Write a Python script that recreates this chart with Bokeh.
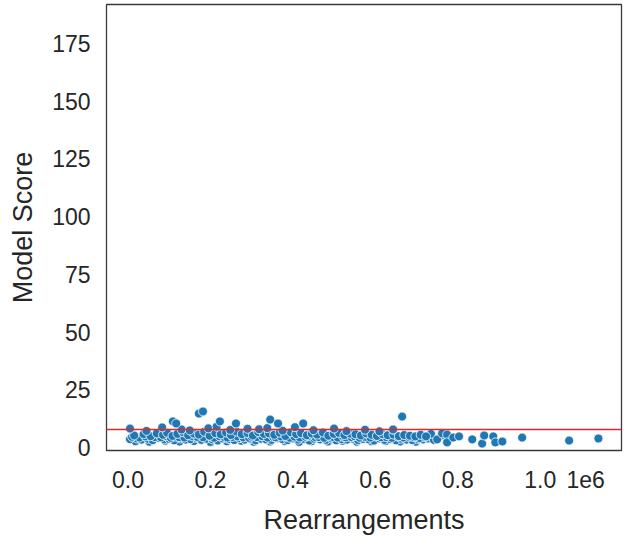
from bokeh.plotting import figure
from bokeh.models import FixedTicker, Range1d, ColumnDataSource
from bokeh.embed import file_html
from bokeh.resources import INLINE

# ---- data ----
# Rearrangements (thousands) / model score
low_x = [5, 22, 33, 48, 60, 75, 88, 100, 112, 128, 140, 152, 165, 178, 190, 205, 218, 230, 245, 258,
         270, 283, 297, 310, 322, 335, 348, 362, 375, 388, 400, 413, 427, 440, 452, 466, 480, 493, 505,
         518, 532, 545, 558, 570, 584, 597, 610, 622, 636, 650, 663, 676, 690, 703, 716, 728, 742]
low_y = [3.6, 3.9, 3.4, 3.8, 3.2, 4.1, 3.5, 3.7, 3.1, 3.9, 3.4, 3.6, 4.2, 3.3, 3.8, 3.5, 3.0, 3.9, 3.6,
         3.2, 4.0, 3.4, 3.7, 3.1, 3.8, 3.5, 3.3, 4.0, 3.6, 3.2, 3.9, 3.4, 3.7, 3.0, 3.8, 3.5, 3.3, 3.9,
         3.1, 3.6, 3.4, 3.8, 3.2, 3.7, 3.5, 3.0, 3.9, 3.3, 3.6, 3.1, 3.8, 3.4, 3.2, 3.7, 3.5, 3.9, 3.3]
band_x = [10, 28, 42, 65, 80, 93, 104, 116, 124, 137, 156, 168, 182, 201, 209, 222, 234, 241, 254, 266,
          280, 294, 300, 313, 326, 339, 352, 358, 371, 385, 392, 404, 417, 431, 437, 455, 463, 476, 490,
          496, 509, 522, 528, 542, 549, 562, 575, 588, 600, 614, 627, 640, 655, 668, 681, 694, 707, 720]
band_y = [4.6, 4.3, 4.8, 4.5, 4.4, 4.9, 4.2, 4.7, 4.5, 4.3, 4.8, 4.6, 4.4, 4.7, 4.2, 4.9, 4.5, 4.3, 4.6,
          4.8, 4.4, 4.2, 4.7, 4.5, 4.9, 4.3, 4.6, 4.4, 4.8, 4.5, 4.2, 4.7, 4.3, 4.6, 4.9, 4.4, 4.5, 4.2,
          4.8, 4.6, 4.3, 4.7, 4.4, 4.5, 4.9, 4.2, 4.6, 4.3, 4.8, 4.4, 4.5, 4.2, 4.7, 4.3, 4.6, 4.4, 4.1, 4.5]
base_x = [18, 52, 90, 125, 160, 200, 240, 275, 305, 345, 380, 415, 445, 485, 520, 555, 590, 625, 660, 698]
base_y = [2.7, 2.5, 2.9, 2.6, 2.8, 2.4, 2.7, 2.9, 2.5, 2.6, 2.8, 2.4, 2.7, 2.6, 2.9, 2.5, 2.7, 2.8, 2.6, 2.5]
mid_x = [15, 38, 55, 70, 85, 95, 108, 120, 134, 146, 160, 172, 185, 198, 212, 225, 238, 250, 263, 276,
         290, 303, 316, 330, 342, 355, 368, 382, 395, 408, 420, 434, 446, 459, 473, 486, 499, 512, 525,
         539, 552, 565, 578, 591, 604, 617, 630, 644, 657, 670, 684, 697, 710, 735, 760]
mid_y = [5.2, 5.8, 4.9, 6.1, 5.5, 6.4, 5.0, 5.9, 6.6, 5.3, 6.0, 5.6, 6.8, 5.1, 6.2, 5.7, 6.5, 5.4, 6.9,
         5.8, 6.3, 5.2, 6.7, 5.9, 6.1, 5.5, 6.4, 5.0, 6.6, 5.8, 6.2, 5.3, 6.0, 5.6, 6.5, 5.1, 5.9, 6.3,
         5.4, 6.0, 5.7, 5.2, 6.1, 5.5, 5.0, 5.8, 5.3, 5.6, 4.9, 5.4, 5.1, 4.8, 5.5, 5.9, 5.2]
high_x = [45, 83, 130, 150, 195, 215, 248, 290, 318, 338, 375, 405, 450, 500, 530, 575, 610, 643]
high_y = [7.2, 8.7, 7.8, 7.4, 8.3, 9.0, 7.6, 8.1, 7.9, 8.4, 7.3, 8.8, 7.5, 8.2, 7.1, 7.7, 7.0, 7.8]
out_x = [5, 109, 117, 172, 182, 223, 262, 345, 364, 425, 665, 643,
         723, 750, 762, 774, 774, 789, 803, 835, 859, 864, 886, 891, 908, 956, 1070, 1141]
out_y = [8.2, 11.3, 10.4, 14.7, 15.6, 11.3, 10.4, 12.1, 10.4, 10.4, 13.4, 7.8,
         4.8, 3.5, 6.1, 5.6, 2.2, 4.3, 4.8, 3.5, 1.7, 5.2, 4.8, 2.2, 2.6, 4.3, 3.0, 3.9]
threshold = [7.8]

y_ticks = [0, 25, 50, 75, 100, 125, 150, 175]
x_ticks = [0, 200000, 400000, 600000, 800000, 1000000]
x_tick_labels = ["0.0", "0.2", "0.4", "0.6", "0.8", "1.0"]
offset_pos = 1110000
offset_text = "1e6"

rearr = [v * 1000 for v in base_x + low_x + band_x + mid_x + high_x + out_x]
score = base_y + low_y + band_y + mid_y + high_y + out_y
src = ColumnDataSource(dict(x=rearr, y=score))

FONT = "Liberation Sans"

p = figure(width=625, height=546, output_backend="svg", toolbar_location=None,
           x_range=Range1d(-52000, 1197000), y_range=Range1d(-1.3, 191.9),
           min_border_left=106, min_border_right=4, min_border_top=4, min_border_bottom=96)
p.background_fill_color = "white"
p.border_fill_color = "white"
p.outline_line_color = "#3a3a3a"
p.outline_line_width = 1.3
p.grid.visible = False

p.scatter("x", "y", source=src, size=9, fill_color="#1f77b4", line_color="white", line_width=0.8)
p.hspan(y=threshold, line_color="#e8262a", line_width=1.3)

for ax in (p.xaxis[0], p.yaxis[0]):
    ax.axis_line_color = None
    ax.major_tick_line_color = None
    ax.minor_tick_line_color = None
    ax.major_label_text_font = FONT
    ax.major_label_text_font_size = "23px"
    ax.major_label_text_color = "#262626"
    ax.axis_label_text_font = FONT
    ax.axis_label_text_font_size = "27px"
    ax.axis_label_text_font_style = "normal"
    ax.axis_label_text_color = "#262626"

p.xaxis[0].ticker = FixedTicker(ticks=x_ticks + [offset_pos])
overrides = {t: s for t, s in zip(x_ticks, x_tick_labels)}
overrides[offset_pos] = offset_text
p.xaxis[0].major_label_overrides = overrides
p.yaxis[0].ticker = FixedTicker(ticks=y_ticks)
p.xaxis[0].axis_label = "Rearrangements"
p.yaxis[0].axis_label = "Model Score"
p.xaxis[0].major_label_standoff = 14
p.xaxis[0].axis_label_standoff = 14
p.yaxis[0].major_label_standoff = 10
p.yaxis[0].axis_label_standoff = 11

open("out.html", "w").write(file_html(p, INLINE))
